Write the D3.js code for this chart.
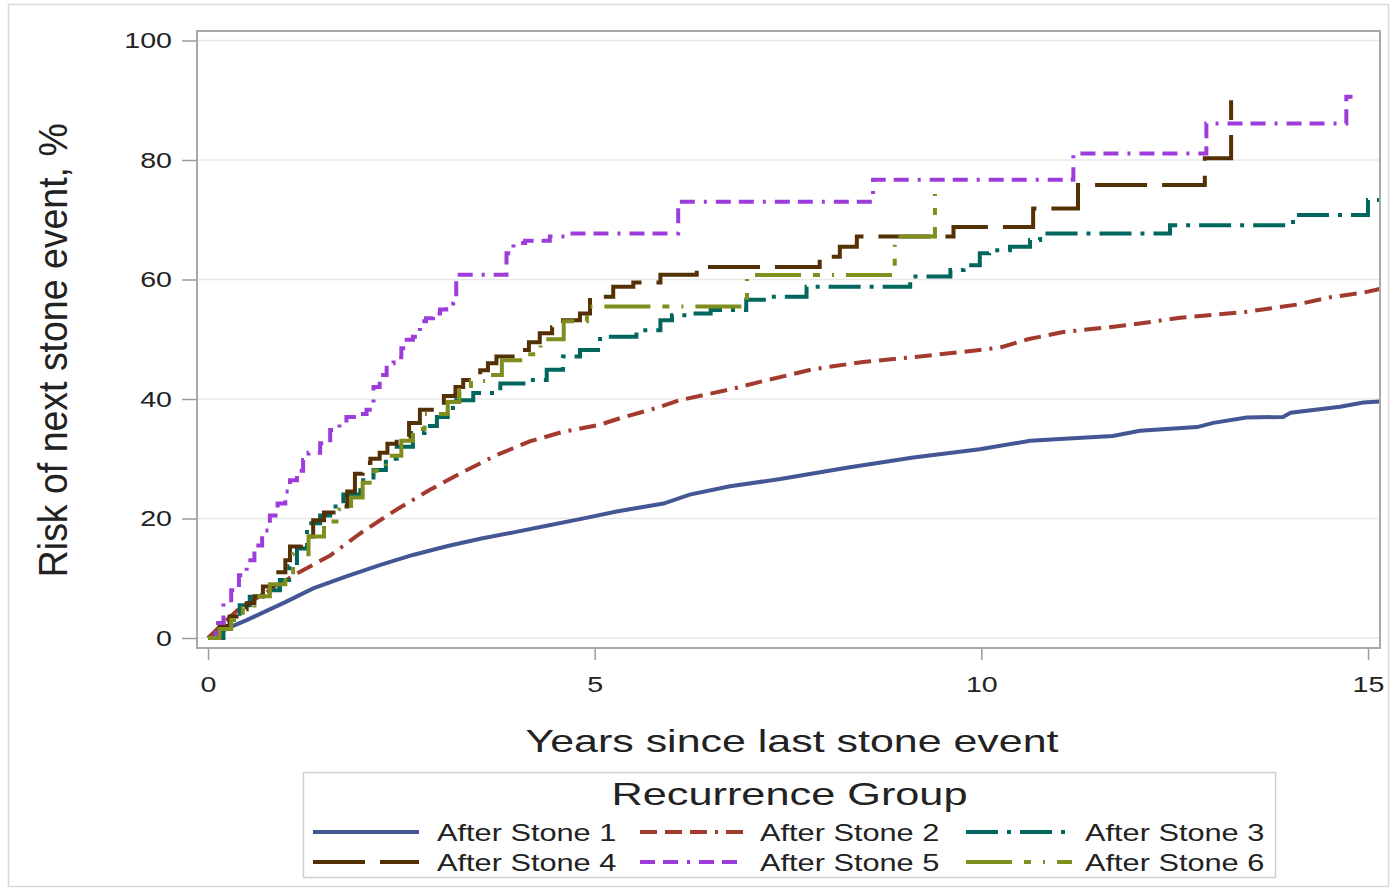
<!DOCTYPE html>
<html>
<head>
<meta charset="utf-8">
<script src="https://cdn.jsdelivr.net/npm/d3@7"></script>
<style>
  html, body { margin: 0; padding: 0; background: #fff; }
  svg { display: block; }
  text { font-family: "Liberation Sans", Arial, sans-serif; fill: #222; }
</style>
</head>
<body>
<svg id="chart" width="1391" height="895"></svg>
<script>
// Cumulative risk of the next stone event by recurrence group (years, %)
const groups = ["After Stone 1", "After Stone 2", "After Stone 3", "After Stone 4", "After Stone 5", "After Stone 6"];

const stone1Years = [0,0.25,0.5,0.75,1.0,1.36,1.79,2.22,2.65,3.1,3.52,4.0,4.38,4.81,5.3,5.89,6.23,6.75,7.4,8.26,9.12,9.98,10.63,11.3,11.7,12.05,12.79,13.0,13.43,13.9,14.0,14.64,14.94,15.15];
const stone1Risk  = [0,1.6,3.0,4.5,6.0,8.3,10.3,12.2,13.9,15.4,16.6,17.8,18.8,19.9,21.2,22.5,24.0,25.4,26.6,28.5,30.2,31.6,33.0,33.5,33.8,34.7,35.3,36.0,36.9,37.0,37.7,38.7,39.4,39.6];

const stone2Years = [0,0.2,0.41,0.8,1.15,1.58,2.0,2.44,2.87,3.3,3.73,4.16,4.59,5.07,5.33,5.8,6.1,6.75,7.18,7.83,8.47,9.12,9.77,10.24,10.6,11.06,11.92,12.57,13.43,14.08,14.5,14.94,15.15];
const stone2Risk  = [0,2.5,5.0,8.0,10.8,13.8,17.8,21.5,24.8,27.8,30.6,32.9,34.5,35.7,36.8,38.5,39.8,41.6,43.0,45.0,46.2,47.0,47.9,48.6,50.0,51.2,52.4,53.6,54.6,55.8,57.0,57.8,58.4];

const stone3Years = [0,0.2,0.41,0.54,0.7,0.93,1.05,1.15,1.28,1.45,1.58,1.75,1.97,2.14,2.3,2.44,2.65,2.8,2.96,3.1,3.21,3.43,3.78,4.16,4.38,4.59,4.81,5.07,5.54,5.85,6.0,6.19,6.5,6.96,7.22,7.74,9.08,9.6,9.77,9.98,10.1,10.37,10.63,10.76,12.44,14.03,15.0,15.15];
const stone3Risk  = [0,3,5.5,6.9,8,9.7,12,15,19.2,20.5,22,24,26.4,28.1,30,32,34.3,35.5,37,38.5,39.8,41,42.6,43.2,44.9,47.1,48.2,50.4,51.5,53.2,54,54.3,54.9,56.6,57.1,58.8,60.5,61.6,62.4,64.4,64.9,65.5,66.6,67.7,69.1,70.8,73.3,73.3];

const stone4Years = [0,0.15,0.28,0.4,0.5,0.6,0.71,0.85,1.0,1.06,1.2,1.36,1.5,1.66,1.8,1.9,2.0,2.1,2.22,2.32,2.44,2.6,2.74,3.05,3.2,3.3,3.4,3.52,3.62,3.73,4.03,4.15,4.29,4.45,4.59,4.81,4.94,5.24,5.5,5.85,6.32,7.91,8.17,8.39,9.64,10.67,11.25,12.89,13.23];
const stone4Risk  = [0,2,3.6,4.8,5.8,7,8.6,11,13,15.3,17,19.7,21,22,24.5,27.5,29.3,30,31,32.5,33.7,36,38.2,40.5,42,43.2,44,44.8,46,47.1,48.2,49.5,51,52,53.2,54.3,57.1,58.8,59.5,60.8,62.1,63.8,65.5,67.2,68.8,71.9,75.8,80.3,90.0];

const stone5Years = [0,0.1,0.2,0.3,0.4,0.5,0.6,0.7,0.8,0.9,1.0,1.06,1.15,1.23,1.3,1.45,1.58,1.7,1.79,1.97,2.05,2.14,2.22,2.31,2.4,2.5,2.57,2.65,2.74,2.82,2.91,3.0,3.08,3.17,3.21,3.86,3.95,4.1,4.42,4.68,6.08,8.6,11.19,12.91,14.72,14.8];
const stone5Risk  = [0,2.5,5.8,8,10.5,13,15.5,18,20.5,22.5,24.5,26.4,28,29.8,31,32.6,34.8,36,37,37.5,38.2,42,44,46,47,48.5,49.9,50.4,53,53.5,54.3,55,56,57.1,60.8,64.4,66.1,66.5,67.2,67.7,73.0,76.7,81.1,86.1,90.6,90.6];

const stone6Years = [0,0.15,0.3,0.45,0.6,0.8,1.0,1.1,1.3,1.5,1.7,1.85,2.0,2.15,2.3,2.5,2.65,2.8,3.1,3.25,3.4,3.6,3.8,4.1,4.3,4.6,4.9,6.97,8.88,9.4];
const stone6Risk  = [0,1.5,3,5,7,9,11,14,17,19.5,21.5,23.5,26,28,30.5,33,35,37.5,39.5,41.5,43,44,46.5,47.5,50,53,55.5,60.75,67.2,75.5];

const xTicks = [0, 5, 10, 15];
const yTicks = [0, 20, 40, 60, 80, 100];

const seriesYears = [stone1Years, stone2Years, stone3Years, stone4Years, stone5Years, stone6Years];
const seriesRisk  = [stone1Risk, stone2Risk, stone3Risk, stone4Risk, stone5Risk, stone6Risk];

// Style per group: colour, dash pattern, smooth or stepped
const colors = ["#445694", "#A23A2E", "#01665E", "#543005", "#9D3CDB", "#7F8E1F"];
const dashes = ["none", "17,8,17,8,17,8,3,8", "32,9,4,9", "52,15", "15,8,15,9,3,9", "46,12,7,12,2,12"];
const stepped = [false, false, true, true, true, true];

const svg = d3.select("#chart");

// Plot frame and data mapping
const frame = { left: 197, right: 1380, top: 31, bottom: 648 };
const x = d3.scaleLinear().domain([0, 15]).range([208, 1368]);
const y = d3.scaleLinear().domain([0, 100]).range([638, 40.5]);

// Stretch text horizontally by a fixed factor
function widen(sel, k) {
  sel.each(function () {
    const w = this.getComputedTextLength();
    d3.select(this).attr("textLength", w * k).attr("lengthAdjust", "spacingAndGlyphs");
  });
}

// Outer border
svg.append("rect")
  .attr("x", 8.5).attr("y", 4.5).attr("width", 1380).attr("height", 882)
  .attr("fill", "none").attr("stroke", "#d9d9d9").attr("stroke-width", 1.5);

// Horizontal gridlines
svg.append("g").selectAll("line").data(yTicks).join("line")
  .attr("x1", frame.left).attr("x2", frame.right)
  .attr("y1", d => y(d)).attr("y2", d => y(d))
  .attr("stroke", "#e8e8e8").attr("stroke-width", 1.5);

// Y axis
const yAxis = svg.append("g")
  .attr("transform", `translate(${frame.left},0)`)
  .call(d3.axisLeft(y).tickValues(yTicks).tickSize(15).tickPadding(10));
yAxis.select(".domain").remove();
yAxis.selectAll(".tick line").attr("stroke", "#9a9a9a").attr("stroke-width", 1.5);
yAxis.selectAll(".tick text")
  .attr("font-size", 22).attr("fill", "#333")
  .style("font-family", "Liberation Sans, Arial, sans-serif");
widen(yAxis.selectAll(".tick text"), 1.3);

// X axis
const xAxis = svg.append("g")
  .attr("transform", `translate(0,${frame.bottom})`)
  .call(d3.axisBottom(x).tickValues(xTicks).tickSize(12).tickPadding(16));
xAxis.select(".domain").remove();
xAxis.selectAll(".tick line").attr("stroke", "#9a9a9a").attr("stroke-width", 1.5);
xAxis.selectAll(".tick text")
  .attr("font-size", 22).attr("fill", "#333")
  .style("font-family", "Liberation Sans, Arial, sans-serif");
widen(xAxis.selectAll(".tick text"), 1.3);

// Curves, clipped to the frame
svg.append("clipPath").attr("id", "plotClip")
  .append("rect")
  .attr("x", frame.left).attr("y", frame.top)
  .attr("width", frame.right - frame.left).attr("height", frame.bottom - frame.top);

const curves = svg.append("g").attr("clip-path", "url(#plotClip)");
groups.forEach((g, i) => {
  const pts = seriesYears[i].map((t, j) => [t, seriesRisk[i][j]]);
  const line = d3.line()
    .x(d => x(d[0])).y(d => y(d[1]))
    .curve(stepped[i] ? d3.curveStepAfter : d3.curveLinear);
  curves.append("path")
    .datum(pts)
    .attr("d", line)
    .attr("fill", "none")
    .attr("stroke", colors[i])
    .attr("stroke-width", 4)
    .attr("stroke-dasharray", dashes[i])
    .attr("stroke-linejoin", "miter");
});

// Frame drawn over the curves
svg.append("rect")
  .attr("x", frame.left).attr("y", frame.top)
  .attr("width", frame.right - frame.left).attr("height", frame.bottom - frame.top)
  .attr("fill", "none").attr("stroke", "#a8a8a8").attr("stroke-width", 2);

// Axis titles
const xTitle = svg.append("text")
  .attr("x", (x(0) + x(15)) / 2 + 4).attr("y", 752)
  .attr("text-anchor", "middle").attr("font-size", 32)
  .text("Years since last stone event");
xTitle.attr("textLength", 533).attr("lengthAdjust", "spacingAndGlyphs");

svg.append("text")
  .attr("transform", `translate(67,${(y(0) + y(100)) / 2 + 11}) rotate(-90)`)
  .attr("text-anchor", "middle").attr("font-size", 41)
  .attr("textLength", 454).attr("lengthAdjust", "spacingAndGlyphs")
  .text("Risk of next stone event, %");

// Legend
const legend = svg.append("g");
legend.append("rect")
  .attr("x", 303.5).attr("y", 772.5).attr("width", 972).attr("height", 105)
  .attr("fill", "#fff").attr("stroke", "#cfcfcf").attr("stroke-width", 1.5);
legend.append("text")
  .attr("x", 789.5).attr("y", 805)
  .attr("text-anchor", "middle").attr("font-size", 32)
  .attr("textLength", 356).attr("lengthAdjust", "spacingAndGlyphs")
  .text("Recurrence Group");

const colLine = [313, 640, 966];
const colText = [437, 760, 1085];
const rowY = [832, 862];
groups.forEach((g, i) => {
  const c = i % 3, r = Math.floor(i / 3);
  legend.append("line")
    .attr("x1", colLine[c]).attr("x2", colLine[c] + 106)
    .attr("y1", rowY[r]).attr("y2", rowY[r])
    .attr("stroke", colors[i]).attr("stroke-width", 4)
    .attr("stroke-dasharray", dashes[i]);
  const t = legend.append("text")
    .attr("x", colText[c]).attr("y", rowY[r] + 9)
    .attr("font-size", 24)
    .text(g);
  widen(t, 1.28);
});
</script>
</body>
</html>
